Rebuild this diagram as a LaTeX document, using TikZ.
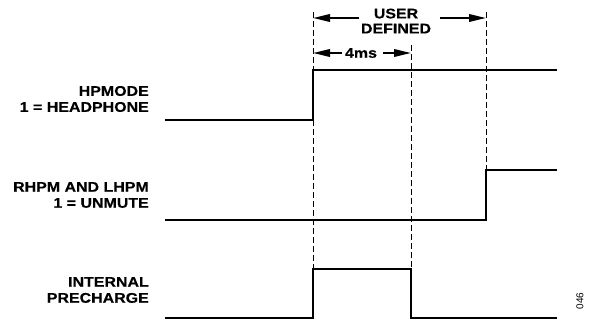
\documentclass[tikz,border=0pt]{standalone}
\usepackage{fontspec}
\setmainfont{Liberation Sans}
\newfontfamily\labfont[FakeStretch=1.14,FakeBold=0.4]{Liberation Sans}
\usetikzlibrary{arrows.meta}
\begin{document}
\begin{tikzpicture}[x=1pt,y=-1pt,
  sig/.style={line width=2pt,line join=miter},
  guide/.style={line width=0.9pt,dash pattern=on 6pt off 3pt},
  dim/.style={line width=2pt,-{Triangle[length=17pt,width=7.5pt]}},
  lbl/.style={font=\labfont\bfseries\fontsize{14}{16}\selectfont,align=right,anchor=east,inner sep=0pt},
  toplbl/.style={font=\labfont\bfseries\fontsize{14}{15}\selectfont,align=center,inner sep=0pt}]
\useasboundingbox (0,0) rectangle (595,324);
% guides
\coordinate (g1t) at (313,12); \coordinate (g1b) at (313,318);
\coordinate (g2t) at (411,45); \coordinate (g2b) at (411,269);
\coordinate (g3t) at (486,12); \coordinate (g3b) at (486,170);
\draw[guide] (g1t) -- (g1b);
\draw[guide] (g2t) -- (g2b);
\draw[guide] (g3t) -- (g3b);
% labels
\node[lbl] (l1) at (149,99) {HPMODE\\1 = HEADPHONE};
\node[lbl] (l2) at (149,195) {RHPM AND LHPM\\1 = UNMUTE};
\node[lbl] (l3) at (149,290) {INTERNAL\\PRECHARGE};
% signals
\draw[sig] (165,120) -- (313,120) -- (313,70) -- (557,70);
\draw[sig] (165,220) -- (486,220) -- (486,170) -- (557,170);
\draw[sig] (165,318) -- (313,318) -- (313,269) -- (411,269) -- (411,318) -- (557,318);
% top dimension
\node[toplbl] (ud) at (396,21) {USER\\DEFINED};
\coordinate (a1) at (313,18); \coordinate (a2) at (486,18);
\coordinate (t1) at (359,18); \coordinate (t2) at (440,18);
\draw[dim] (t1) -- (a1);
\draw[dim] (t2) -- (a2);
\node[toplbl] (ms) at (361,53) {4ms};
\coordinate (b1) at (313,53); \coordinate (b2) at (411,53);
\coordinate (s1) at (342,53); \coordinate (s2) at (383,53);
\draw[dim] (s1) -- (b1);
\draw[dim] (s2) -- (b2);
\node[rotate=90,font=\fontsize{10}{11}\selectfont,inner sep=0pt] (fig) at (580,301) {046};
\end{tikzpicture}
\end{document}
